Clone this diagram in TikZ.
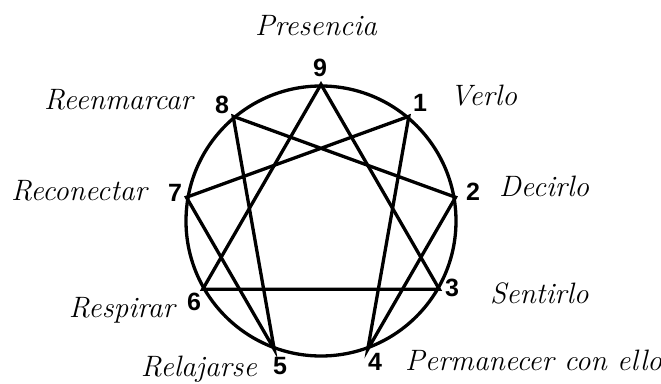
\documentclass[tikz,border=0pt]{standalone}
\usepackage{fontspec}
\newfontfamily\numfont{Liberation Sans}
\usetikzlibrary{positioning}

\begin{document}
\begin{tikzpicture}[
  x=1pt,y=1pt,
  chord/.style={line width=3.3pt},
  num/.style={font=\numfont\bfseries\fontsize{25}{25}\selectfont,inner sep=0pt},
  lbl/.style={font=\itshape\fontsize{29.5}{31}\selectfont,inner sep=0pt},
]
\useasboundingbox (-321,-162) rectangle (340,221);
% circle and its nine points
\node[draw,circle,line width=3.3pt,minimum size=270pt,inner sep=0pt] (ring) at (0,0) {};
\foreach \n [count=\i from 0] in {9,1,2,3,4,5,6,7,8}
  \coordinate (p\n) at (ring.{90-40*\i});
% hexad and triangle
\draw[chord] (p1) -- (p4) -- (p2) -- (p8) -- (p5) -- (p7) -- cycle;
\draw[chord] (p9) -- (p3) -- (p6) -- cycle;
% numbers
\node[num] (n9) at (-1,153)   {9};
\node[num] (n1) at (99,118)   {1};
\node[num] (n2) at (152,29)   {2};
\node[num] (n3) at (131,-67)  {3};
\node[num] (n4) at (54,-141)  {4};
\node[num] (n5) at (-41,-145) {5};
\node[num] (n6) at (-127,-81) {6};
\node[num] (n7) at (-146,28)  {7};
\node[num] (n8) at (-99,116)  {8};
% names
\node[lbl,anchor=base]      (t9) at (-5,185)    {Presencia};
\node[lbl,anchor=base west] (t1) at (129,115)   {Verlo};
\node[lbl,anchor=base west] (t2) at (178,25)    {Decirlo};
\node[lbl,anchor=base west] (t3) at (169,-82)   {Sentirlo};
\node[lbl,anchor=base west] (t4) at (84,-149)   {Permanecer con ello};
\node[lbl,anchor=base east] (t5) at (-64,-155)  {Relajarse};
\node[lbl,anchor=base east] (t6) at (-146,-96)  {Respirar};
\node[lbl,anchor=base east] (t7) at (-174,21)   {Reconectar};
\node[lbl,anchor=base east] (t8) at (-128,111)  {Reenmarcar};
\end{tikzpicture}
\end{document}
